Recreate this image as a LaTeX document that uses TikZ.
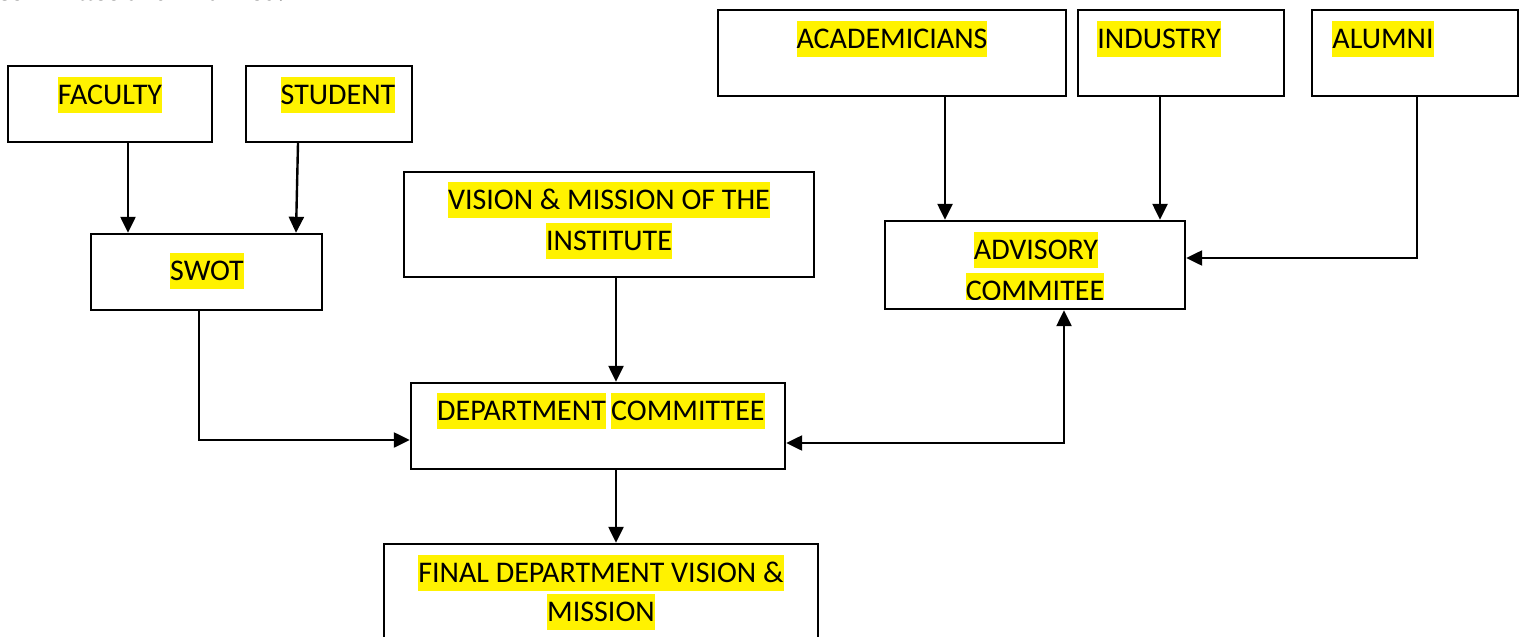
\documentclass[tikz,border=0pt]{standalone}
\usepackage{fontspec}
\setmainfont{Carlito}
\newfontfamily\docserif{Liberation Serif}
\usetikzlibrary{arrows.meta}
\tikzset{
  box/.style={draw,line width=2.4pt,inner sep=0pt},
  hl/.style={fill=yellow,inner sep=0pt,text height=27.5pt,text depth=9pt,font=\fontsize{30}{36}\selectfont},
  arr/.style={line width=2.4pt,-{Triangle[length=16pt,width=15pt]}},
  dblarr/.style={line width=2.4pt,{Triangle[length=16pt,width=15pt]}-{Triangle[length=16pt,width=15pt]}},
}
\begin{document}
\begin{tikzpicture}[x=1pt,y=-1pt]
\useasboundingbox (0,0) rectangle (1523,637);
\begin{scope}
\clip (0,0) rectangle (1523,637);
\node[anchor=base west,inner sep=0pt,font=\docserif\fontsize{29}{34}\selectfont] (intro) at (-3,0.5) {committee and finalized.};
\node[box,minimum width=434pt,minimum height=156pt] (fin) at (601,622) {};
\end{scope}
\node[box,minimum width=204pt,minimum height=76pt] (fac) at (110,104) {};
\node[box,minimum width=166pt,minimum height=76pt] (stu) at (329,104) {};
\node[box,minimum width=231pt,minimum height=76pt] (swot) at (206.5,272) {};
\node[box,minimum width=410pt,minimum height=105pt] (vis) at (609,224.5) {};
\node[box,minimum width=300pt,minimum height=88pt] (adv) at (1035,265) {};
\node[box,minimum width=374pt,minimum height=86pt] (dep) at (598,426) {};
\node[box,minimum width=348pt,minimum height=86pt] (aca) at (892,53) {};
\node[box,minimum width=206pt,minimum height=86pt] (ind) at (1181,53) {};
\node[box,minimum width=206pt,minimum height=86pt] (alu) at (1415,53) {};
\node[hl] (facT) at (110,95) {FACULTY};
\node[hl] (stuT) at (338,95) {STUDENT};
\node[hl] (swotT) at (207,271) {SWOT};
\node[hl] (visT1) at (609,200) {VISION \& MISSION OF THE};
\node[hl] (visT2) at (609,241) {INSTITUTE};
\node[hl] (advT1) at (1036,250) {ADVISORY};
\begin{scope}
\clip (adv.north west) rectangle (adv.east |- 0,299);
\node[hl] (advT2) at (1035,291) {COMMITEE};
\end{scope}
\node[hl,anchor=west] (depT1) at (437,411) {DEPARTMENT};
\node[hl,anchor=west] (depT2) at (611,411) {COMMITTEE};
\node[hl] (finT1) at (601,573) {FINAL DEPARTMENT VISION \&};
\node[hl] (finT2) at (601,612) {MISSION};
\node[hl] (acaT) at (892,39) {ACADEMICIANS};
\node[hl] (indT) at (1159,39) {INDUSTRY};
\node[hl] (aluT) at (1383,39) {ALUMNI};
\draw[arr] (fac.south -| 128,0) -- (swot.north -| 128,0);
\draw[arr] (stu.south -| 298,0) -- (swot.north -| 296,0);
\draw[arr] (vis.south -| 616,0) -- (dep.north -| 616,0);
\draw[arr] (swot.south -| 199,0) |- (dep.west |- 0,440);
\draw[arr] (aca.south -| 945,0) -- (adv.north -| 945,0);
\draw[arr] (ind.south -| 1160,0) -- (adv.north -| 1160,0);
\draw[arr] (alu.south -| 1417,0) |- (adv.east |- 0,258);
\draw[dblarr] (dep.east |- 0,443) -| (adv.south -| 1064,0);
\draw[arr] (dep.south -| 616,0) -- (fin.north -| 616,0);
\end{tikzpicture}
\end{document}
